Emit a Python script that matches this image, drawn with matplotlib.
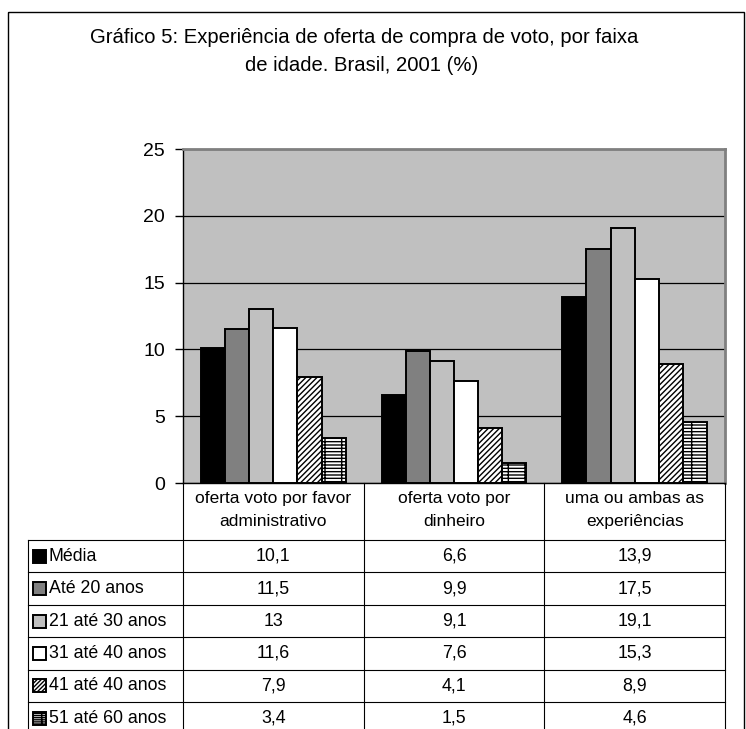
import matplotlib
matplotlib.use("Agg")
import matplotlib.pyplot as plt
from matplotlib.patches import Rectangle
from matplotlib.transforms import blended_transform_factory
import numpy as np

plt.rcParams['font.family'] = ['Liberation Sans', 'DejaVu Sans']

categories = ["oferta voto por favor\nadministrativo",
              "oferta voto por\ndinheiro",
              "uma ou ambas as\nexperiências"]
series = ["Média", "Até 20 anos", "21 até 30 anos", "31 até 40 anos",
          "41 até 40 anos", "51 até 60 anos"]
media = [10.1, 6.6, 13.9]
ate_20 = [11.5, 9.9, 17.5]
de_21_30 = [13, 9.1, 19.1]
de_31_40 = [11.6, 7.6, 15.3]
de_41_40 = [7.9, 4.1, 8.9]
de_51_60 = [3.4, 1.5, 4.6]
values = [media, ate_20, de_21_30, de_31_40, de_41_40, de_51_60]

title_lines = ["Gráfico 5: Experiência de oferta de compra de voto, por faixa",
               "de idade. Brasil, 2001 (%)"]

# fill / hatch per series
faces = ["black", "#808080", "#c0c0c0", "white", "white", "white"]
hatches = [None, None, None, None, "//////", "-----|"]
key_hatches = [None, None, None, None, "////////", "--------|"]

W, H = 746, 729
fig = plt.figure(figsize=(W / 100, H / 100), dpi=100)

# plot area in pixels: left, top, right, bottom
pl, pt, pr, pb = 183, 149, 725, 483
ax = fig.add_axes([pl / W, 1 - pb / H, (pr - pl) / W, (pb - pt) / H])
ax.set_facecolor("#c0c0c0")

n = len(series)
w = 0.8 / n
x = np.arange(len(categories))
for j in range(n):
    ax.bar(x + (j - (n - 1) / 2) * w, values[j], width=w, color=faces[j],
           edgecolor="black", linewidth=1.4, hatch=hatches[j], zorder=3)

ax.set_xlim(-0.5, len(categories) - 0.5)
ax.set_ylim(0, 25)
ax.set_yticks([0, 5, 10, 15, 20, 25])
ax.set_xticks([])
ax.yaxis.grid(True, color="black", linewidth=0.9)
ax.set_axisbelow(True)
ax.tick_params(axis="y", length=6, width=1, pad=7, labelsize=14)
for s in ("left", "bottom"):
    ax.spines[s].set_color("black")
    ax.spines[s].set_linewidth(1)
for s in ("top", "right"):
    ax.spines[s].set_color("#808080")
    ax.spines[s].set_linewidth(2)

# overlay in pixel coordinates for title, frame and data table
tax = fig.add_axes([0, 0, 1, 1])
tax.set_xlim(0, W)
tax.set_ylim(H, 0)
tax.axis("off")
tax.add_patch(Rectangle((8, 12), 736, 740, fill=False, edgecolor="black",
                        linewidth=1, clip_on=False))

tax.text(364, 37, title_lines[0], ha="center", va="center", fontsize=14.6)
tax.text(362, 65, title_lines[1], ha="center", va="center", fontsize=14.6)

# data table below the plot
bt = blended_transform_factory(ax.transData, tax.transData)
row_h = 32.4
row_top = 540
tab_left = 28
lw = 0.8
# column separators
for k in range(len(categories) + 1):
    tax.plot([k - 0.5, k - 0.5], [pb, H + 5], color="black", lw=lw,
             transform=bt, clip_on=False)
tax.plot([tab_left, tab_left], [row_top, H + 5], color="black", lw=lw)
for r in range(n):
    y = row_top + r * row_h
    tax.plot([tab_left, pr], [y, y], color="black", lw=lw)

for i, cat in enumerate(categories):
    tax.text(i, 510, cat, transform=bt, ha="center", va="center",
             fontsize=12.5, linespacing=1.65)

for j in range(n):
    yc = row_top + (j + 0.5) * row_h
    tax.add_patch(Rectangle((33, yc - 6.5), 13, 13, facecolor=faces[j],
                            edgecolor="black", linewidth=1.4,
                            hatch=key_hatches[j]))
    tax.text(49, yc, series[j], ha="left", va="center", fontsize=12.8)
    for i in range(len(categories)):
        tax.text(i, yc, "{:g}".format(values[j][i]).replace(".", ","),
                 transform=bt, ha="center", va="center", fontsize=12.8)

fig.savefig("out.png", dpi=100)
